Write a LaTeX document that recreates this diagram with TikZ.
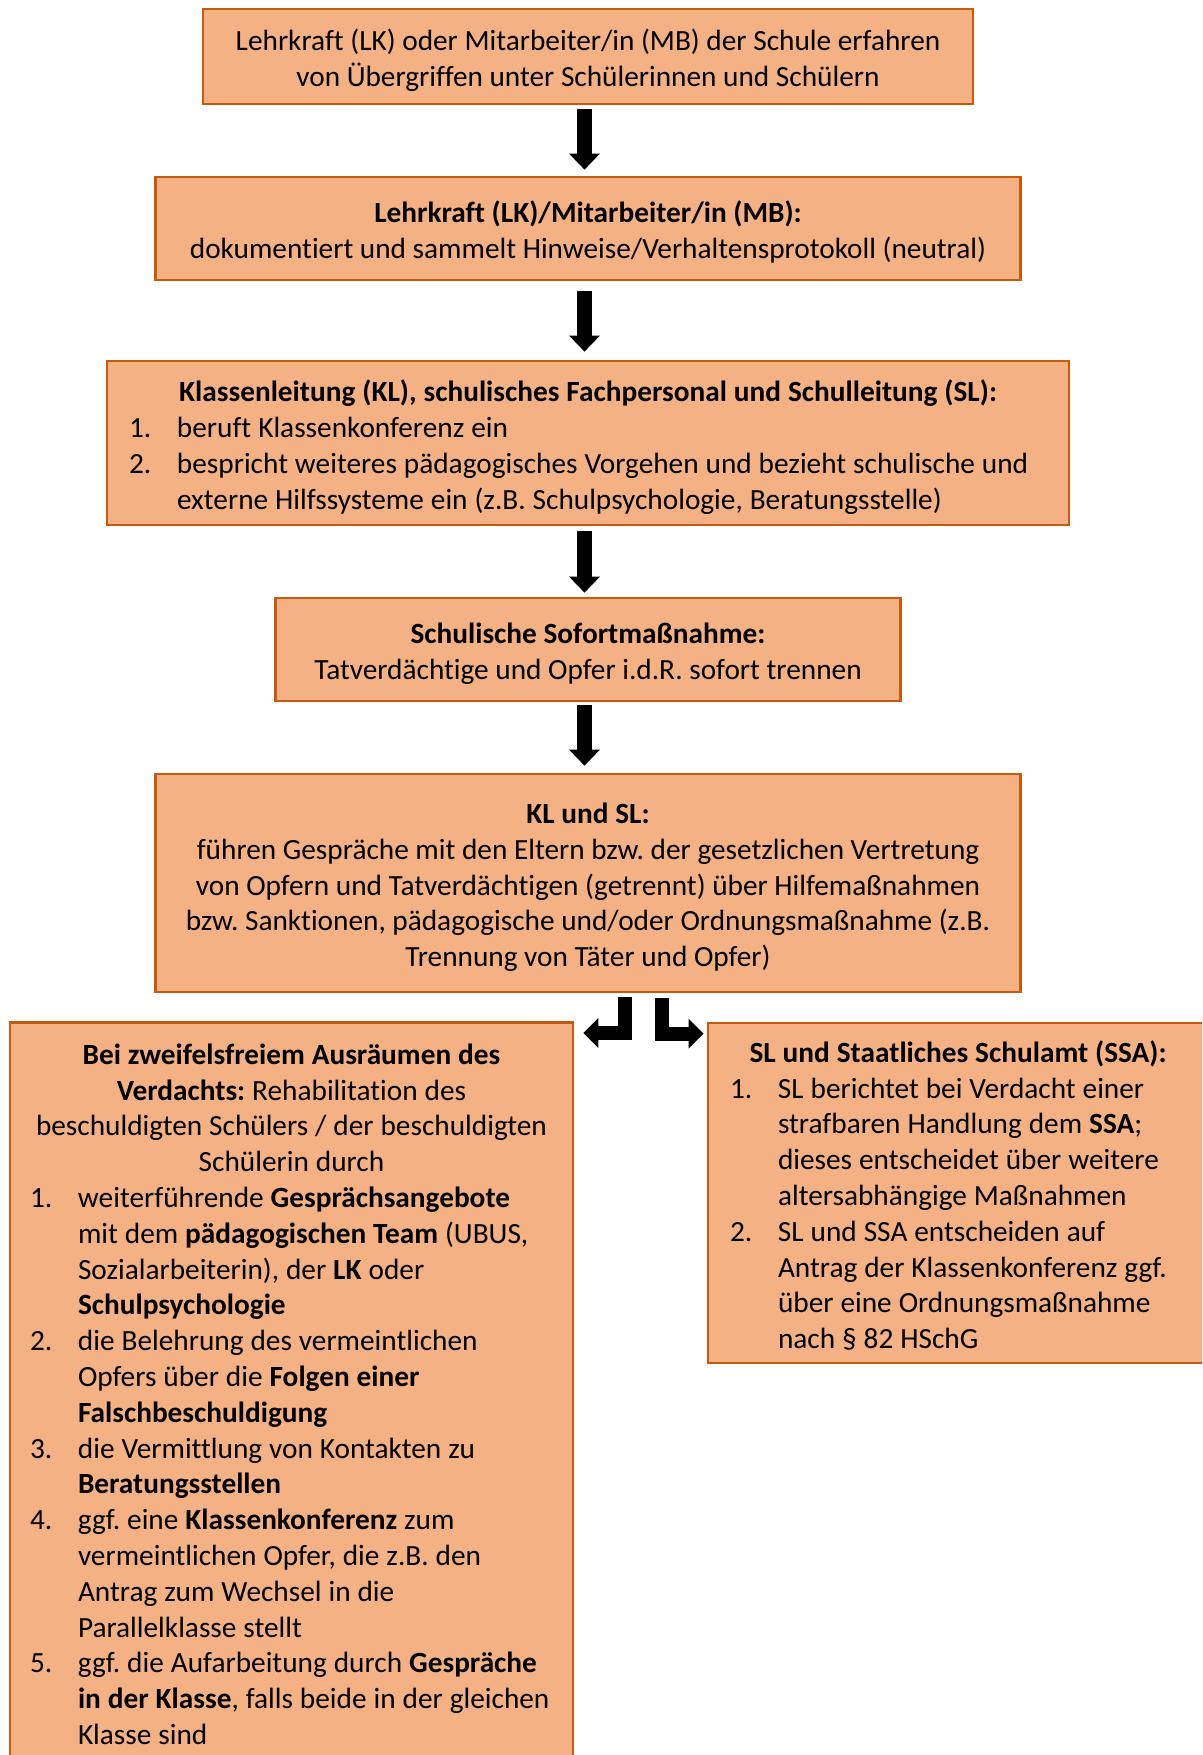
\documentclass[tikz,border=0pt]{standalone}
\usepackage{fontspec}
\setmainfont{Carlito}[Ligatures=NoCommon]
\usetikzlibrary{arrows.meta}
\definecolor{boxfill}{HTML}{F4B183}
\definecolor{boxline}{HTML}{C55A11}
\newcommand\fsz{\fontsize{29.3}{35.8}\selectfont\frenchspacing\lineskip=0pt\lineskiplimit=0pt\relax}
\newcommand\tstrut{\rule{0pt}{35pt}}
\newcommand\lsp{\spaceskip=6.95pt plus 0pt minus 0pt\xspaceskip=6.95pt\relax}
\newcommand\itm[2]{\par\noindent\makebox[48pt][l]{#1}{\lsp\begin{tabular}[t]{@{}l@{}}#2\end{tabular}}\par}
\newcommand\hd[1]{\par{\centering\noindent\lsp\begin{tabular}[t]{@{}c@{}}#1\end{tabular}\par}}
\tikzset{
  box/.style={draw=boxline, fill=boxfill, line width=2.8pt, rectangle, inner sep=0pt, font=\fsz},
  listbox/.style={box},
  downarrow/.style={line width=15pt, -{Triangle[width=31pt,length=16pt,line width=0pt]}},
  bentarrow/.style={line width=14pt, line join=miter, -{Triangle[width=30pt,length=15pt,line width=0pt]}}
}
\begin{document}
\begin{tikzpicture}[x=1pt,y=-1pt]
\useasboundingbox (0,0) rectangle (1202,1755);
\clip (0,0) rectangle (1202,1755);

\node[box, minimum width=770pt, minimum height=95pt, align=center] (b1) at (588,56.5)
  {\tstrut Lehrkraft (LK) oder Mitarbeiter/in (MB) der Schule erfahren\\\strut von Übergriffen unter Schülerinnen und Schülern};

\node[box, minimum width=865pt, minimum height=103pt, align=center] (b2) at (588,228.5)
  {\tstrut\textbf{Lehrkraft (LK)/Mitarbeiter/in (MB):}\\\strut dokumentiert und sammelt Hinweise/Verhaltensprotokoll (neutral)};

\node[box, minimum width=625pt, minimum height=103pt, align=center] (b4) at (588,649.5)
  {\tstrut\textbf{Schulische Sofortmaßnahme:}\\\strut Tatverdächtige und Opfer i.d.R. sofort trennen};

\node[box, minimum width=865pt, minimum height=218pt, align=center] (b5) at (588,883)
  {\tstrut\textbf{KL und SL:}\\\strut führen Gespräche mit den Eltern bzw. der gesetzlichen Vertretung\\\strut von Opfern und Tatverdächtigen (getrennt) über Hilfemaßnahmen\\\strut bzw. Sanktionen, pädagogische und/oder Ordnungsmaßnahme (z.B.\\\strut Trennung von Täter und Opfer)};

\node[listbox, minimum width=962pt, minimum height=164pt, text width=918pt, inner xsep=22pt] (b3) at (588,443)
  {\hd{\bfseries Klassenleitung (KL), schulisches Fachpersonal und Schulleitung (SL):}
   \itm{1.}{beruft Klassenkonferenz ein}
   \itm{2.}{bespricht weiteres pädagogisches Vorgehen und bezieht schulische und\\externe Hilfssysteme ein (z.B. Schulpsychologie, Beratungsstelle)}};

\node[listbox, text width=523pt, inner xsep=20pt, inner ysep=6pt, anchor=north] (lb) at (291.5,1021)
  {\hd{\textbf{Bei zweifelsfreiem Ausräumen des}\\\textbf{Verdachts:} Rehabilitation des\\beschuldigten Schülers / der beschuldigten\\Schülerin durch}
   \itm{1.}{weiterführende \textbf{Gesprächsangebote}\\mit dem \textbf{pädagogischen Team} (UBUS,\\Sozialarbeiterin), der \textbf{LK} oder\\\textbf{Schulpsychologie}}
   \itm{2.}{die Belehrung des vermeintlichen\\Opfers über die \textbf{Folgen einer}\\\textbf{Falschbeschuldigung}}
   \itm{3.}{die Vermittlung von Kontakten zu\\\textbf{Beratungsstellen}}
   \itm{4.}{ggf. eine \textbf{Klassenkonferenz} zum\\vermeintlichen Opfer, die z.B. den\\Antrag zum Wechsel in die\\Parallelklasse stellt}
   \itm{5.}{ggf. die Aufarbeitung durch \textbf{Gespräche}\\\textbf{in der Klasse}, falls beide in der gleichen\\Klasse sind}
   \par\noindent\rule{0pt}{60pt}};

\node[listbox, minimum width=500pt, minimum height=340pt, text width=456pt, inner xsep=22pt] (rb) at (958,1193)
  {\hd{\bfseries SL und Staatliches Schulamt (SSA):}
   \itm{1.}{SL berichtet bei Verdacht einer\\strafbaren Handlung dem \textbf{SSA};\\dieses entscheidet über weitere\\altersabhängige Maßnahmen}
   \itm{2.}{SL und SSA entscheiden auf\\Antrag der Klassenkonferenz ggf.\\über eine Ordnungsmaßnahme\\nach § 82 HSchG}};

\draw[downarrow] ([xshift=-3.5pt,yshift=-4pt]b1.south) -- ([xshift=-3.5pt,yshift=6pt]b2.north);
\draw[downarrow] ([xshift=-3.5pt,yshift=-10pt]b2.south) -- ([xshift=-3.5pt,yshift=8pt]b3.north);
\draw[downarrow] ([xshift=-3.5pt,yshift=-5pt]b3.south) -- ([xshift=-3.5pt,yshift=4pt]b4.north);
\draw[downarrow] ([xshift=-3.5pt,yshift=-3pt]b4.south) -- ([xshift=-3.5pt,yshift=7pt]b5.north);

\draw[bentarrow] ([xshift=37pt,yshift=-4pt]b5.south) |- ([xshift=9pt,yshift=-12pt]lb.north east);
\draw[bentarrow] ([xshift=73.5pt,yshift=-5pt]b5.south) |- ([xshift=-3pt,yshift=-12pt]rb.north west);
\end{tikzpicture}
\end{document}
